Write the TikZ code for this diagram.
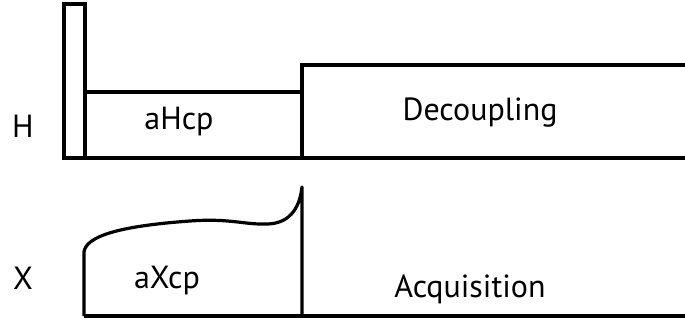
\documentclass[tikz,border=0pt]{standalone}
\usepackage{fontspec}
\setmainfont{PT Sans}
\begin{document}
\begin{tikzpicture}[x=1pt,y=-1pt,
  seq/.style={line width=3.2pt, line join=miter},
  lbl/.style={anchor=base, inner sep=0pt, font=\fontsize{32}{36}\selectfont}]
\useasboundingbox (0,0) rectangle (685,324);
% H channel
\draw[seq] (64,158) rectangle (85,4);
\draw[seq] (85,158) -- (85,92) -- (302,92) -- (302,158);
\draw[seq] (302,158) -- (302,65) -- (686,65);
\draw[seq] (64,158) -- (686,158);
% X channel
\draw[seq, line join=round] (84,316) -- (84,252)
  .. controls (86,236) and (120,226) .. (190,221)
  .. controls (230,218) and (245,225) .. (268,224)
  .. controls (292,223) and (300,205) .. (302,187) -- (302,316);
\draw[seq] (84,316) -- (686,316);
% labels
\node[lbl] (hlab) at (23,137) {H};
\node[lbl] (xlab) at (23,289) {X};
\node[lbl] (ahcp) at (179,129) {aHcp};
\node[lbl] (dec) at (480,120) {Decoupling};
\node[lbl] (axcp) at (167,288) {aXcp};
\node[lbl] (acq) at (470,297) {Acquisition};
\end{tikzpicture}
\end{document}
